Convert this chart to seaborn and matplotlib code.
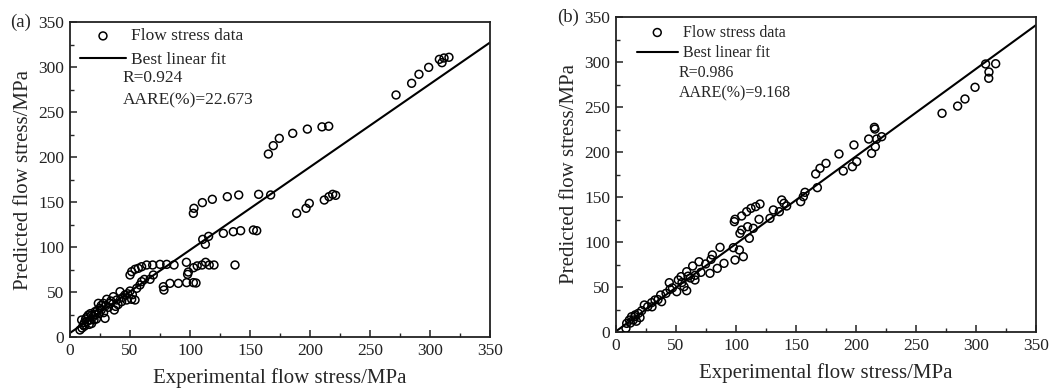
import numpy as np
import pandas as pd
import matplotlib
matplotlib.use("Agg")
import matplotlib.pyplot as plt
import seaborn as sns
from matplotlib.ticker import MultipleLocator

# ---------------- data ----------------
exp_a = [8.3, 11.1, 9.7, 12, 13, 15.3, 16.7, 14, 17, 19.4, 18, 20.8, 22, 23, 25, 23.6, 26, 27.8,
         29.2, 30.6, 28, 32, 33.3, 36.1, 36.9, 38.9, 40, 41.7, 43, 45.8, 47.2, 50, 51.4, 54.2,
         55.6, 58.3, 59.7, 62, 66.7, 69.4, 10, 12, 14, 16, 18, 20, 21, 24, 26, 30, 34, 38, 44, 48, 52,
         50, 51.4, 54.2, 56.9, 59.7, 63.9, 68.9, 75, 80.6, 86.7,
         78.3, 77.8, 83.3, 90.3, 97.2, 102.8, 105,
         97, 98.6, 98, 103, 106, 110, 113, 116, 120, 137.5,
         110.6, 112.8, 115.5, 127.8, 136.1, 142.2, 152.8, 155.6,
         103.3, 102.8, 110.3, 118.6, 131.1, 140.6, 157.2, 167.2,
         188.9, 196.7, 199.4, 211.9, 215.8, 218.9, 221.4,
         165.3, 169.4, 174.4, 185.6, 197.8, 210, 215.6,
         271.7, 284.7, 290.8, 298.9, 307.8, 310, 311.7, 315.8]
pred_a = [7.8, 13.3, 18.9, 16, 20, 24.4, 18.9, 22, 26, 22.6, 15, 28.1, 20, 30, 31.9, 37.4, 35, 37.4,
          20.7, 41.9, 27, 33, 37.4, 44.8, 30, 41.1, 36, 50.4, 39.3, 46.7, 41.1, 51.1, 41.9, 41.1,
          54.1, 57.8, 61.5, 64, 64.1, 68.9, 10, 12, 17, 14, 24, 19, 25, 26, 30, 35, 40, 34, 44, 48, 47,
          68.9, 72.6, 75.2, 76.3, 78.1, 80, 80, 80.7, 80.7, 80,
          52.2, 55.9, 59.6, 59.6, 60.4, 60.4, 60,
          83, 72.2, 69.6, 77, 79, 80, 83, 80, 80, 80,
          108.5, 103, 111.8, 115.2, 117, 118.1, 118.9, 118.1,
          143, 137.4, 149.3, 153, 155.9, 157.8, 158.5, 157.8,
          137.4, 143, 148.5, 152.2, 155.9, 158.5, 157.4,
          203.3, 212.6, 220.7, 226.3, 231, 233.5, 234.2,
          268.9, 281.9, 291.9, 299.6, 308.5, 304.8, 310, 310.8]

exp_b = [8.3, 8.9, 11.1, 13, 14.4, 15.8, 18.6, 17, 16, 12, 20, 21.4, 23.6, 26.4, 29.7, 32.5, 38,
         37.2, 41.7, 44.4, 45, 50.6, 51.9, 54.2, 56.7, 58.9, 58.9, 63.9, 65.8, 69.2, 70.8, 74.7,
         78.3, 79.2, 80.3, 84.4, 86.7, 90, 97.8, 99.2, 102.8, 106.1, 30, 35, 47, 55, 60, 62, 66,
         98.6, 99.2, 104.7, 108.9, 112.5, 116.4, 120, 103.3, 104.7, 109.7, 111.1, 114.4, 119.2,
         128.3, 131.1, 136.1, 138.1, 140, 142.2, 153.9, 156.1, 157.5, 167.8, 166.4, 170, 175,
         185.8, 189.4, 197, 200.6, 198.3, 213, 216.1, 210.6, 217.2, 221.4, 215.3, 215.8,
         271.7, 284.7, 290.8, 299.2, 308, 310.8, 310.6, 316.4]
pred_b = [4.1, 9.6, 13.3, 17, 13.3, 17, 20.7, 12, 19, 10, 16, 23.7, 30, 28.1, 32.6, 35.6, 33.7,
          41.1, 43, 54.8, 47.4, 44.8, 57.8, 61.5, 50.4, 45.9, 67, 73.3, 57.8, 78.1, 66.3, 75.6,
          65.2, 80.7, 85.6, 70.7, 94.1, 76.3, 93.7, 80, 91.1, 83.7, 28, 36, 49, 55, 62, 60, 63,
          122.6, 125.2, 128.9, 133.7, 137.4, 139.3, 142.2, 109.6, 113.3, 117, 104.1, 115.2, 125.2,
          126.3, 135.6, 133.7, 146.7, 143, 140, 144.8, 150.4, 155.2, 160.4, 175.6, 181.9, 187.4,
          197.8, 178.9, 183.7, 189.3, 207.8, 198.5, 205.9, 214.4, 214.4, 217, 227.4, 225.5,
          243, 251, 258.9, 271.9, 297.8, 288.9, 281.9, 298.1]

# best linear fit (slope, intercept) and statistics as printed
fit_a = (0.922, 4.5)
fit_b = (0.972, 0.8)
stats_a = ["R=0.924", "AARE(%)=22.673"]
stats_b = ["R=0.986", "AARE(%)=9.168"]
panel_labels = ["(a)", "(b)"]
axis_ticks = [0, 50, 100, 150, 200, 250, 300, 350]

# ---------------- styling ----------------
sns.set_theme(style="ticks")
plt.rcParams["font.family"] = ["Liberation Serif", "DejaVu Serif"]

fig = plt.figure(figsize=(10.53, 3.88), dpi=100)
axA = fig.add_axes([70 / 1053, 51 / 388, 420 / 1053, 315 / 388])
axB = fig.add_axes([616 / 1053, 56 / 388, 420 / 1053, 315 / 388])


def draw(ax, ex, pr, fit, stats, label, fs_leg, spacing, leg_anchor, stat_pos, stat_step,
         label_x):
    df = pd.DataFrame({"exp": ex, "pred": pr})
    sns.scatterplot(data=df, x="exp", y="pred", ax=ax, marker="o", s=32,
                    facecolors="none", edgecolor="black", linewidth=1.1,
                    label="Flow stress data", zorder=3)
    xs = np.array([axis_ticks[0], axis_ticks[-1]], dtype=float)
    line = pd.DataFrame({"x": xs, "y": fit[0] * xs + fit[1]})
    sns.lineplot(data=line, x="x", y="y", ax=ax, color="black", linewidth=1.5,
                 label="Best linear fit", zorder=2)
    ax.set_xlim(axis_ticks[0], axis_ticks[-1])
    ax.set_ylim(axis_ticks[0], axis_ticks[-1])
    ax.set_xticks(axis_ticks)
    ax.set_yticks(axis_ticks)
    ax.xaxis.set_minor_locator(MultipleLocator(25))
    ax.yaxis.set_minor_locator(MultipleLocator(25))
    ax.tick_params(axis="both", which="major", direction="in", length=5, width=1.1,
                   labelsize=12.5, top=False, right=False, pad=4, colors="#222222",
                   labelcolor="#222222")
    ax.tick_params(axis="both", which="minor", direction="in", length=3, width=1.0,
                   top=False, right=False)
    for sp in ax.spines.values():
        sp.set_linewidth(1.3)
        sp.set_color("#222222")
    ax.set_xlabel("Experimental flow stress/MPa", fontsize=15, labelpad=7)
    ax.set_ylabel("Predicted flow stress/MPa", fontsize=15, labelpad=4)
    ax.legend(loc="upper left", frameon=False, fontsize=fs_leg,
              handlelength=2.6, handletextpad=0.3, labelspacing=spacing,
              borderaxespad=0.2, bbox_to_anchor=leg_anchor)
    for i, s in enumerate(stats):
        ax.text(stat_pos[0], stat_pos[1] - i * stat_step, s, transform=ax.transAxes,
                fontsize=fs_leg, va="center", ha="left")
    ax.text(label_x, 1.0, label, transform=ax.transAxes, fontsize=13.5,
            va="center", ha="left")


draw(axA, exp_a, pred_a, fit_a, stats_a, panel_labels[0], 12.5, 0.42,
     (0.0, 1.013), (0.126, 0.822), 0.070, -0.143)
draw(axB, exp_b, pred_b, fit_b, stats_b, panel_labels[1], 11.5, 0.3,
     (0.026, 1.006), (0.150, 0.822), 0.063, -0.140)

fig.savefig("out.png", dpi=100)
